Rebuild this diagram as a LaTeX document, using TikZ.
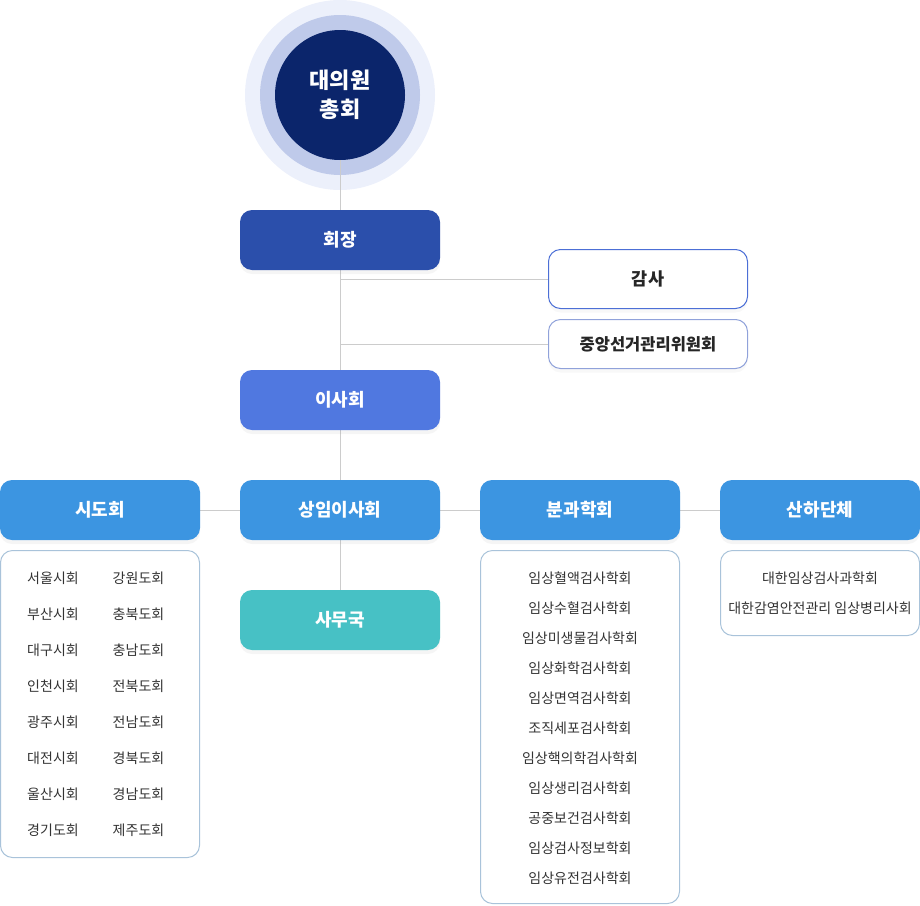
\documentclass[tikz,border=0pt]{standalone}
\usepackage{fontspec}
\setmainfont{Noto Sans CJK KR}
\usetikzlibrary{shadows}
\definecolor{ringA}{HTML}{ECF0FB}
\definecolor{ringB}{HTML}{BFCAEA}
\definecolor{navy}{HTML}{0B256B}
\definecolor{presC}{HTML}{2B4FAB}
\definecolor{boardC}{HTML}{5078E0}
\definecolor{rowC}{HTML}{3C95E1}
\definecolor{secC}{HTML}{47C1C5}
\definecolor{audB}{HTML}{4C6FD6}
\definecolor{elecB}{HTML}{90A2DA}
\definecolor{listB}{HTML}{A9C3DA}
\definecolor{lineC}{HTML}{CCCCCC}
\definecolor{txtC}{HTML}{333333}
\pgfdeclarelayer{bglayer}
\pgfdeclarelayer{linelayer}
\pgfsetlayers{bglayer,linelayer,main}
\begin{document}
\begin{tikzpicture}[x=1pt,y=-1pt,
  hdr/.style={rectangle, rounded corners=12pt, minimum width=200pt, minimum height=60pt,
    inner sep=0pt, text=white, font=\fontsize{18}{21}\selectfont\bfseries,
    drop shadow={shadow xshift=0pt, shadow yshift=-4pt, opacity=0.08}},
  sidebox/.style={rectangle, rounded corners=12pt, minimum width=199pt, fill=white,
    inner sep=0pt, line width=1pt, text=black!85,
    drop shadow={shadow xshift=0pt, shadow yshift=-4pt, opacity=0.06}},
  listbox/.style={rectangle, rounded corners=12pt, minimum width=199pt, fill=white,
    draw=listB, line width=1pt, inner sep=0pt},
  item/.style={inner sep=0pt, text=txtC, font=\fontsize{14}{16}\selectfont},
  conn/.style={draw=lineC, line width=1pt}]
\useasboundingbox (0,0) rectangle (920,905);
% rings
\begin{pgfonlayer}{bglayer}
  \node[circle, fill=ringA, minimum size=190pt, inner sep=0pt] (ringout) at (340,95) {};
  \node[circle, fill=ringB, minimum size=160pt, inner sep=0pt] (ringmid) at (340,95) {};
\end{pgfonlayer}
\node[circle, fill=navy, minimum size=130pt, inner sep=0pt, text=white, align=center,
  font=\fontsize{22}{29}\selectfont\bfseries] (gm) at (340,95) {대의원\\총회};
% main boxes
\node[hdr, fill=presC] (pres) at (340,240) {회장};
\node[sidebox, draw=audB, minimum height=59pt, font=\fontsize{17.5}{20}\selectfont\bfseries] (audit) at (648,279) {감사};
\node[sidebox, draw=elecB, minimum height=49pt, font=\fontsize{16.5}{19}\selectfont\bfseries] (elec) at (648,344) {중앙선거관리위원회};
\node[hdr, fill=boardC] (board) at (340,400) {이사회};
\node[hdr, fill=rowC] (sido) at (100,510) {시도회};
\node[hdr, fill=rowC] (standing) at (340,510) {상임이사회};
\node[hdr, fill=rowC] (bungwa) at (580,510) {분과학회};
\node[hdr, fill=rowC] (sanha) at (820,510) {산하단체};
\node[hdr, fill=secC] (samu) at (340,620) {사무국};
% connectors
\begin{pgfonlayer}{linelayer}
  \draw[conn] (gm.center) -- (samu.north);
  \draw[conn] (sido.east) -- (sanha.west);
  \draw[conn] (gm.center |- audit.west) -- (audit.west);
  \draw[conn] (gm.center |- elec.west) -- (elec.west);
\end{pgfonlayer}
% lists
\node[listbox, minimum height=307pt] (sidolist) at (100,704) {};
\foreach \t [count=\i from 0] in {서울시회,부산시회,대구시회,인천시회,광주시회,대전시회,울산시회,경기도회}
  \node[item] (sl\i) at (53,578+36*\i) {\t};
\foreach \t [count=\i from 0] in {강원도회,충북도회,충남도회,전북도회,전남도회,경북도회,경남도회,제주도회}
  \node[item] (sr\i) at (138.5,578+36*\i) {\t};
\node[listbox, minimum height=353pt] (bunlist) at (580,727) {};
\foreach \t [count=\i from 0] in {임상혈액검사학회,임상수혈검사학회,임상미생물검사학회,임상화학검사학회,임상면역검사학회,조직세포검사학회,임상핵의학검사학회,임상생리검사학회,공중보건검사학회,임상검사정보학회,임상유전검사학회}
  \node[item] (bl\i) at (580,578+30*\i) {\t};
\node[listbox, minimum height=85pt] (sanlist) at (820,593) {};
\node[item] (sa0) at (820,578) {대한임상검사과학회};
\node[item] (sa1) at (820,608) {대한감염안전관리 임상병리사회};
\end{tikzpicture}
\end{document}
